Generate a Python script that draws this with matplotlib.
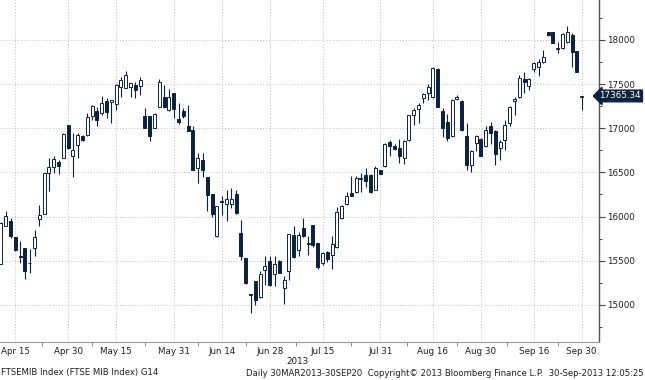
import matplotlib
matplotlib.use("Agg")
from matplotlib import pyplot as plt
from matplotlib import transforms
import numpy as np
import pandas as pd

# trading days shown, Borsa Italiana closed on May 1 and Aug 15
days = pd.bdate_range("2013-04-10", "2013-09-30")
days = days[~days.isin(pd.to_datetime(["2013-05-01", "2013-08-15"]))]

opens = [15467, 15896, 15953, 15765, 15548, 15644, 15474, 15644, 15972, 16028,
         16492, 16560, 16617, 16662, 17035, 16681, 16812, 16914, 16926, 17137,
         17190, 17171, 17303, 17292, 17276, 17465, 17453, 17465, 17491, 17480,
         17133, 17133, 17008, 17246, 17359, 17201, 17397, 17107, 17190, 17020,
         16982, 16545, 16643, 16447, 16254, 15783, 16179, 16145, 16145, 16258,
         15813, 15531, 15120, 15267, 15086, 15399, 15493, 15354, 15500, 15191,
         15380, 15786, 15617, 15870, 15695, 15904, 15700, 15474, 15595, 15568,
         15655, 15983, 16145, 16266, 16273, 16430, 16473, 16473, 16304, 16522,
         16567, 16839, 16794, 16779, 16662, 16869, 17152, 17216, 17340, 17404,
         17352, 17668, 17190, 17065, 16907, 17329, 17310, 16907, 16586, 16831,
         16877, 16794, 17027, 16963, 16775, 16869, 17058, 17303, 17352, 17555,
         17480, 17668, 17698, 17755, 18087, 18087, 17895, 17906, 17981, 18057,
         17879, 17350]
highs = [15940, 16058, 15983, 15770, 15720, 15644, 15632, 15852, 16134, 16492,
         16662, 16681, 16643, 16944, 17035, 16944, 16944, 16920, 17171, 17265,
         17246, 17367, 17340, 17322, 17502, 17578, 17653, 17510, 17529, 17578,
         17227, 17133, 17171, 17555, 17491, 17442, 17397, 17284, 17230, 17265,
         17028, 16715, 16715, 16447, 16260, 16115, 16228, 16304, 16322, 16296,
         15957, 15531, 15120, 15267, 15380, 15557, 15550, 15550, 15510, 15324,
         15801, 15896, 15820, 15983, 15776, 15904, 15705, 15600, 15605, 15776,
         16107, 16130, 16273, 16454, 16454, 16492, 16549, 16480, 16567, 16530,
         16830, 16869, 16824, 16877, 16869, 17152, 17227, 17284, 17404, 17502,
         17691, 17680, 17227, 17159, 17329, 17378, 17315, 17058, 16749, 16926,
         16885, 17020, 17065, 16982, 16869, 17095, 17254, 17359, 17604, 17642,
         17566, 17755, 17781, 17887, 18095, 18090, 17981, 18083, 18158, 18075,
         17879, 17370]
lows = [15467, 15889, 15757, 15606, 15474, 15294, 15361, 15550, 15889, 16028,
        16285, 16492, 16485, 16662, 16767, 16447, 16662, 16850, 16910, 17092,
        17028, 17152, 17118, 17058, 17209, 17359, 17453, 17352, 17340, 17378,
        17008, 16850, 17001, 17238, 17227, 17190, 17118, 17050, 17118, 16963,
        16522, 16375, 16447, 16066, 15994, 15770, 16021, 15946, 16096, 16032,
        15512, 15240, 14909, 15003, 15078, 15229, 15210, 15210, 15361, 15014,
        15286, 15531, 15557, 15768, 15568, 15660, 15406, 15455, 15490, 15406,
        15644, 15975, 16134, 16228, 16266, 16273, 16334, 16265, 16295, 16480,
        16560, 16681, 16750, 16605, 16590, 16860, 17039, 17058, 17284, 17321,
        17340, 17246, 16899, 16850, 16900, 17320, 16974, 16530, 16500, 16737,
        16681, 16785, 16824, 16586, 16643, 16756, 17028, 17152, 17340, 17397,
        17435, 17642, 17593, 17744, 18050, 17970, 17849, 17894, 17970, 17698,
        17642, 17201]
closes = [15926, 16009, 15776, 15623, 15540, 15380, 15470, 15765, 16021, 16492,
          16556, 16651, 16567, 16937, 16775, 16756, 16918, 16869, 17125, 17254,
          17096, 17284, 17179, 17322, 17491, 17548, 17604, 17510, 17435, 17548,
          17008, 16907, 17159, 17529, 17246, 17352, 17216, 17065, 17133, 16971,
          16530, 16659, 16530, 16239, 16032, 16115, 16165, 16198, 16198, 16040,
          15550, 15248, 15112, 15059, 15354, 15436, 15229, 15467, 15361, 15286,
          15801, 15538, 15794, 15783, 15690, 15682, 15429, 15587, 15519, 15689,
          16051, 16122, 16228, 16236, 16435, 16433, 16400, 16273, 16549, 16484,
          16824, 16794, 16764, 16681, 16850, 17152, 17201, 17265, 17385, 17465,
          17680, 17246, 17001, 16888, 17321, 17359, 16982, 16586, 16737, 16907,
          16688, 16982, 16944, 16711, 16839, 17039, 17246, 17329, 17567, 17529,
          17555, 17744, 17755, 17804, 18060, 17970, 17905, 18068, 18094, 17868,
          17642, 17365]
last_price = 17365.34

tick_days = ["2013-04-15", "2013-04-30", "2013-05-15", "2013-05-31", "2013-06-14",
             "2013-06-28", "2013-07-15", "2013-07-31", "2013-08-16", "2013-08-30",
             "2013-09-16", "2013-09-30"]
tick_labels = ["Apr 15", "Apr 30", "May 15", "May 31", "Jun 14", "Jun 28",
               "Jul 15", "Jul 31", "Aug 16", "Aug 30", "Sep 16", "Sep 30"]

navy = "#0d2240"
txt = "#1e1e1e"
plt.rcParams["font.family"] = "DejaVu Sans"

fig = plt.figure(figsize=(6.45, 3.8), dpi=100)
ax = fig.add_axes([0, 38.5 / 380, 599 / 645, 341.5 / 380])

x = np.arange(len(days))
o = np.array(opens, float)
h = np.array(highs, float)
l = np.array(lows, float)
c = np.array(closes, float)
up = c >= o

ax.vlines(x, l, h, color=navy, lw=0.8, zorder=2)
bot = np.minimum(o, c)
hgt = np.maximum(np.abs(c - o), 8)
ax.bar(x[up], hgt[up], bottom=bot[up], width=0.62, color="white",
       edgecolor=navy, linewidth=0.7, zorder=3)
ax.bar(x[~up], hgt[~up], bottom=bot[~up], width=0.62, color=navy,
       edgecolor=navy, linewidth=0.7, zorder=3)

ax.set_xlim(-0.2, 124.6)
ax.set_ylim(14585, 18452)

tick_pos = [days.get_loc(pd.Timestamp(d)) for d in tick_days]
ax.set_xticks(tick_pos)
ax.set_xticklabels(tick_labels)
mids = [(a + b) / 2 for a, b in zip(tick_pos[:-1], tick_pos[1:])]
ax.set_xticks(mids, minor=True)
ax.tick_params(axis="x", which="major", length=0, pad=4, labelsize=6.3, labelcolor=txt)
ax.tick_params(axis="x", which="minor", length=3, width=0.7, color="#8a8a8a")

ax.yaxis.tick_right()
ax.set_yticks(np.arange(15000, 18001, 500))
ax.set_yticks(np.arange(14750, 18451, 250), minor=True)
ax.tick_params(axis="y", which="major", direction="out", length=4, width=0.8,
               color="#444444", labelsize=6.3, labelcolor=txt, pad=2)
ax.tick_params(axis="y", which="minor", direction="out", length=2.5, width=0.7,
               color="#444444")

ax.grid(True, which="major", linestyle=(0, (1, 2)), color="#bdbdbd", linewidth=0.7)
ax.set_axisbelow(True)
for s in ["top", "left"]:
    ax.spines[s].set_visible(False)
ax.spines["right"].set_color("#555555")
ax.spines["right"].set_linewidth(1.0)
ax.spines["bottom"].set_color("#9a9a9a")
ax.spines["bottom"].set_linewidth(0.8)

# last price flag at the right edge
tr = transforms.blended_transform_factory(fig.transFigure, ax.transData)
ax.text(0.994, last_price, "%.2f" % last_price, transform=tr, ha="right", va="center",
        fontsize=6.3, color="white", clip_on=False, zorder=5,
        bbox=dict(boxstyle="larrow,pad=0.15", fc=navy, ec=navy))

fig.text(298 / 645, 1 - 361 / 380, "2013", ha="center", va="center", fontsize=6.3, color=txt)
fig.text(0.002, 1 - 373 / 380, "FTSEMIB Index (FTSE MIB Index) G14", ha="left",
         va="center", fontsize=6.1, color=txt)
fig.text(0.998, 1 - 373 / 380,
         "Daily 30MAR2013-30SEP20  Copyright\u00a9 2013 Bloomberg Finance L.P.  30-Sep-2013 12:05:25",
         ha="right", va="center", fontsize=6.1, color=txt)

fig.savefig("out.png", dpi=100)
